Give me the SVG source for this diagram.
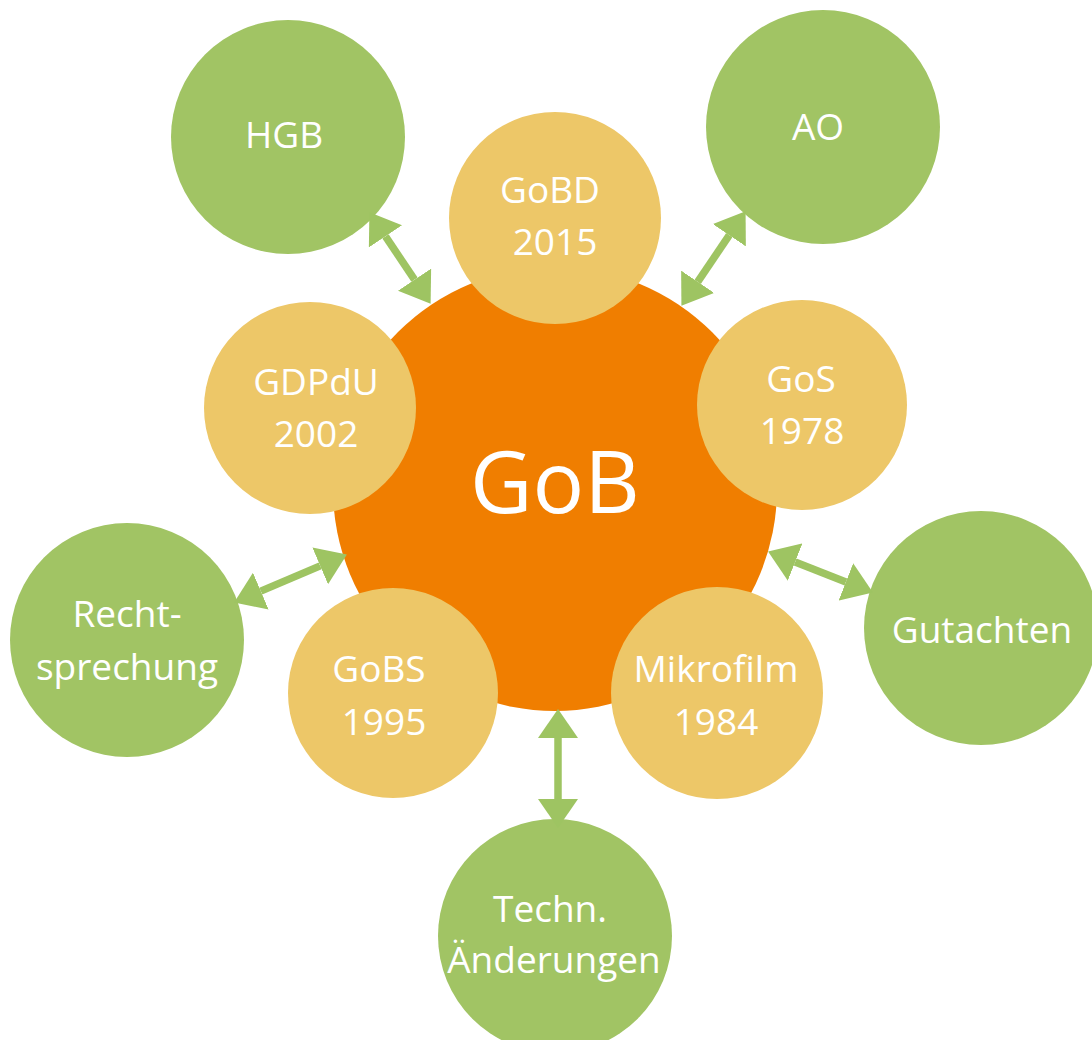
<svg xmlns="http://www.w3.org/2000/svg" width="1092" height="1040" viewBox="0 0 1092 1040">
<style>
.core{fill:#f07e00}
.era{fill:#edc768}
.src{fill:#a1c464}
text{font-family:"Open Sans","Noto Sans","Liberation Sans",sans-serif;fill:#ffffff;text-anchor:middle;font-size:37px}
.big{font-size:86px}
.arr{stroke:#9ec462;stroke-width:7.5;fill:none;marker-start:url(#ah);marker-end:url(#ah)}
</style>
<defs>
<marker id="ah" viewBox="0 0 29 40" refX="0" refY="20" markerWidth="29" markerHeight="40" markerUnits="userSpaceOnUse" orient="auto-start-reverse">
<path d="M0,0 L29,20 L0,40 z" fill="#9ec462"/>
</marker>
</defs>
<rect width="1092" height="1040" fill="#ffffff"/>
<g id="GoB">
<circle class="core" cx="555" cy="489" r="222"/>
<text class="big" x="555" y="513">GoB</text>
</g>
<g id="GoBD">
<circle class="era" cx="555" cy="218" r="106"/>
<text x="550" y="203">GoBD</text>
<text x="555" y="255">2015</text>
</g>
<g id="GDPdU">
<circle class="era" cx="310" cy="408" r="106"/>
<text x="316" y="395">GDPdU</text>
<text x="316" y="447">2002</text>
</g>
<g id="GoS">
<circle class="era" cx="802" cy="405" r="105"/>
<text x="801" y="392">GoS</text>
<text x="802" y="444">1978</text>
</g>
<g id="GoBS">
<circle class="era" cx="393" cy="693" r="105"/>
<text x="379" y="682">GoBS</text>
<text x="384" y="735">1995</text>
</g>
<g id="Mikrofilm">
<circle class="era" cx="717" cy="693" r="106"/>
<text x="716" y="682">Mikrofilm</text>
<text x="716" y="735">1984</text>
</g>
<g id="HGB">
<circle class="src" cx="288" cy="137" r="117"/>
<text x="284" y="148">HGB</text>
</g>
<g id="AO">
<circle class="src" cx="823" cy="127" r="117"/>
<text x="818" y="140">AO</text>
</g>
<g id="Rechtsprechung">
<circle class="src" cx="127" cy="640" r="117"/>
<text x="127" y="627">Recht-</text>
<text x="127" y="680">sprechung</text>
</g>
<g id="Gutachten">
<circle class="src" cx="981" cy="628" r="117"/>
<text x="982" y="643">Gutachten</text>
</g>
<g id="Techn">
<circle class="src" cx="555" cy="936" r="117"/>
<text x="550" y="922">Techn.</text>
<text x="554" y="973">Änderungen</text>
</g>
<g id="connectors">
<line class="arr" x1="385.5" y1="236.3" x2="414.5" y2="279.7"/>
<line class="arr" x1="729.3" y1="235.2" x2="697.7" y2="281.8"/>
<line class="arr" x1="260.8" y1="591.1" x2="320.2" y2="565.9"/>
<line class="arr" x1="795.1" y1="562.1" x2="845.9" y2="581.9"/>
<line class="arr" x1="558" y1="738" x2="558" y2="799"/>
</g>
</svg>
